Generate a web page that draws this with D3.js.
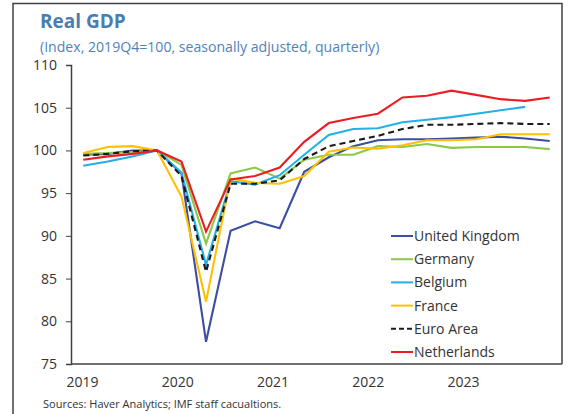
<!DOCTYPE html>
<html>
<head>
<meta charset="utf-8">
<script src="https://cdn.jsdelivr.net/npm/d3@7"></script>
<style>
  body { margin: 0; background: #fff; }
  svg { display: block; font-family: "Open Sans", "Noto Sans", sans-serif; }
</style>
</head>
<body>
<svg id="chart" width="579" height="414"></svg>
<script>
// quarterly data, index 2019Q4 = 100
var quarters = [];
[2019, 2020, 2021, 2022, 2023].forEach(function (yr) {
  for (var q = 1; q <= 4; q++) quarters.push(yr + "Q" + q);
});
var years = [2019, 2020, 2021, 2022, 2023];
var yTicks = [75, 80, 85, 90, 95, 100, 105, 110];

var unitedKingdom = [99.5, 99.6, 100.0, 100.0, 97.3, 77.6, 90.6, 91.7, 90.9, 97.5, 99.2, 100.5, 101.2, 101.3, 101.3, 101.4, 101.5, 101.6, 101.4, 101.1];
var germany = [99.6, 99.7, 99.8, 100.0, 98.3, 89.1, 97.3, 98.0, 96.7, 98.9, 99.5, 99.5, 100.5, 100.4, 100.75, 100.3, 100.4, 100.4, 100.4, 100.15];
var belgium = [98.2, 98.7, 99.3, 100.0, 97.4, 86.6, 96.4, 96.0, 97.1, 99.5, 101.8, 102.5, 102.6, 103.3, 103.6, 103.9, 104.3, 104.7, 105.1];
var france = [99.7, 100.4, 100.5, 100.0, 94.6, 82.3, 96.7, 96.2, 96.1, 97.0, 99.85, 100.35, 100.2, 100.6, 101.2, 101.2, 101.3, 101.9, 101.9, 101.9];
var euroArea = [99.4, 99.6, 99.9, 100.0, 97.0, 85.8, 96.1, 96.1, 96.5, 99.0, 100.5, 101.1, 101.7, 102.5, 103.0, 103.0, 103.1, 103.2, 103.1, 103.1];
var netherlands = [98.9, 99.3, 99.6, 100.0, 98.7, 90.5, 96.6, 97.0, 98.0, 101.0, 103.2, 103.8, 104.3, 106.2, 106.4, 107.0, 106.5, 106.0, 105.8, 106.2];

var series = [
  { name: "United Kingdom", values: unitedKingdom, color: "#3a4fa3", dash: null },
  { name: "Germany", values: germany, color: "#8cc84b", dash: null },
  { name: "Belgium", values: belgium, color: "#22b0e6", dash: null },
  { name: "France", values: france, color: "#ffc000", dash: null },
  { name: "Euro Area", values: euroArea, color: "#1a1a1a", dash: "6,4" },
  { name: "Netherlands", values: netherlands, color: "#ec1c24", dash: null }
];

var svg = d3.select("#chart");
var plotLeft = 71, plotRight = 562, plotTop = 65, plotBottom = 364;

var x = d3.scalePoint().domain(quarters).range([plotLeft, plotRight]).padding(0.5);
var xYear = d3.scaleLinear().domain([2019, 2023]).range([82, 463]);
var y = d3.scaleLinear().domain([75, 110]).range([plotBottom, plotTop]);

// outer frame
svg.append("path")
  .attr("d", "M13,414V3.5H" + plotRight + "V" + plotBottom)
  .attr("fill", "none").attr("stroke", "#404040").attr("stroke-width", 1.5);

// title
svg.append("text").attr("x", 40).attr("y", 28)
  .attr("fill", "#4a7db0").attr("font-size", 19).attr("font-weight", "bold")
  .text("Real GDP");
svg.append("text").attr("x", 40).attr("y", 52)
  .attr("fill", "#4f83b8").attr("font-size", 14.1)
  .text("(Index, 2019Q4=100, seasonally adjusted, quarterly)");

// y axis
var yAxis = svg.append("g").attr("transform", "translate(" + plotLeft + ",0)")
  .call(d3.axisLeft(y).tickValues(yTicks).tickSize(5).tickPadding(9));
yAxis.select(".domain").attr("stroke", "#404040").attr("stroke-width", 1.5);
yAxis.selectAll(".tick line").attr("stroke", "#404040");
yAxis.selectAll("text").attr("font-size", 14).attr("fill", "#333")
  .style("font-family", "'Open Sans', sans-serif");

// x axis
var xAxis = svg.append("g").attr("transform", "translate(0," + plotBottom + ")")
  .call(d3.axisBottom(xYear).tickValues(years).tickFormat(d3.format("d")).tickSize(0).tickPadding(13));
xAxis.select(".domain").remove();
xAxis.selectAll("text").attr("font-size", 14).attr("fill", "#333")
  .style("font-family", "'Open Sans', sans-serif");
svg.append("line").attr("x1", plotLeft).attr("x2", plotRight).attr("y1", plotBottom).attr("y2", plotBottom)
  .attr("stroke", "#404040").attr("stroke-width", 1.5);

// lines
var line = d3.line()
  .x(function (d, i) { return x(quarters[i]); })
  .y(function (d) { return y(d); });

series.forEach(function (s) {
  svg.append("path").datum(s.values)
    .attr("d", line)
    .attr("fill", "none")
    .attr("stroke", s.color)
    .attr("stroke-width", 2.1)
    .attr("stroke-dasharray", s.dash);
});

// legend
var legend = svg.append("g").attr("transform", "translate(391,236)");
series.forEach(function (s, i) {
  var g = legend.append("g").attr("transform", "translate(0," + (i * 23.2) + ")");
  g.append("line").attr("x1", 0).attr("x2", 22).attr("y1", 0).attr("y2", 0)
    .attr("stroke", s.color).attr("stroke-width", 2)
    .attr("stroke-dasharray", s.dash ? "5,3" : null);
  g.append("text").attr("x", 23).attr("y", 5).attr("font-size", 14).attr("fill", "#333")
    .text(s.name);
});

// source note
svg.append("text").attr("x", 43).attr("y", 408).attr("font-size", 11).attr("fill", "#333")
  .text("Sources: Haver Analytics; IMF staff cacualtions.");
</script>
</body>
</html>
